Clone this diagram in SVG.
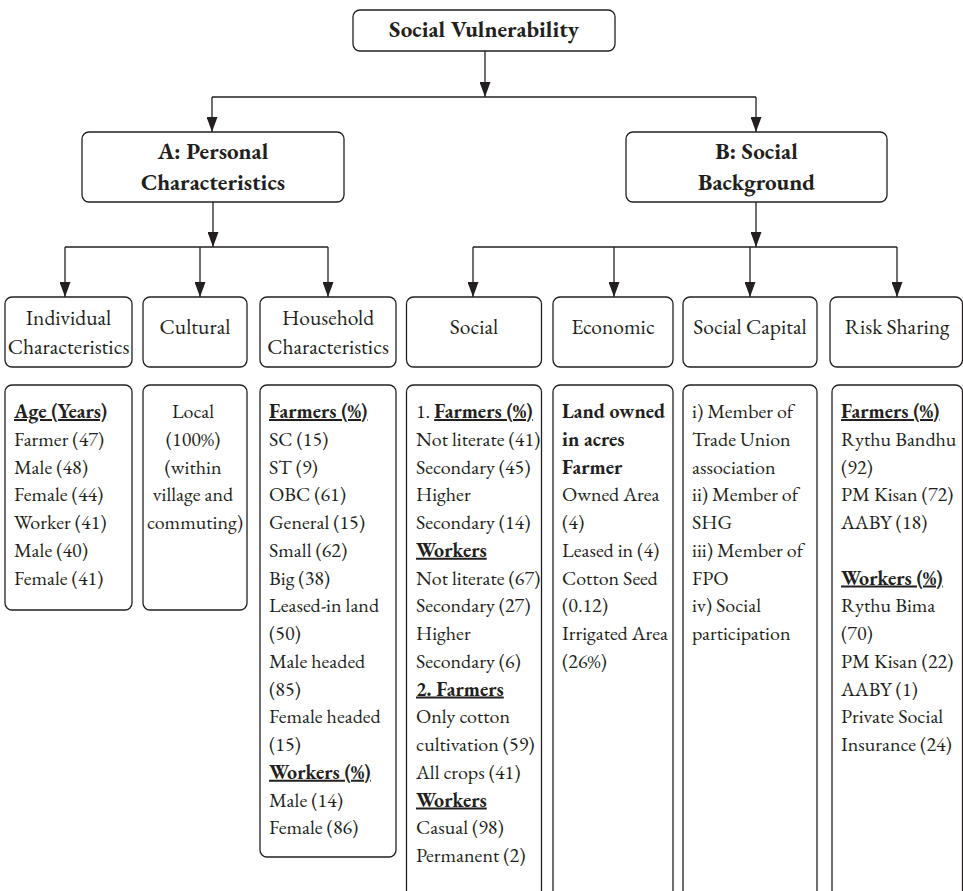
<svg xmlns="http://www.w3.org/2000/svg" width="963" height="891" viewBox="0 0 963 891">
<style>
.box{fill:#fff;stroke:#231f20;stroke-width:1.3}
.t{fill:#231f20}
.hd{font-size:23px;font-weight:bold;text-anchor:middle}
.cat{font-size:21.5px;text-anchor:middle}
.c{font-size:20px}
.b{font-weight:bold}
.bu{font-weight:bold;text-decoration:underline}
.ln{fill:none;stroke:#231f20;stroke-width:1.3}
</style>
<defs>
<marker id="ah" viewBox="0 0 15 11" refX="15" refY="5.5" markerWidth="15" markerHeight="11" orient="auto" markerUnits="userSpaceOnUse">
<path d="M0,0 L15,5.5 L0,11 Z" fill="#231f20"/>
</marker>
</defs>
<rect width="963" height="891" fill="#fff"/>
<g id="connectors">
<path class="ln" d="M485,51 V97" marker-end="url(#ah)"/>
<path class="ln" d="M212,97 H756"/>
<path class="ln" d="M212,97 V132" marker-end="url(#ah)"/>
<path class="ln" d="M756,97 V132" marker-end="url(#ah)"/>
<path class="ln" d="M213,202 V247" marker-end="url(#ah)"/>
<path class="ln" d="M65,247 H328"/>
<path class="ln" d="M65,247 V297" marker-end="url(#ah)"/>
<path class="ln" d="M200,247 V297" marker-end="url(#ah)"/>
<path class="ln" d="M328,247 V297" marker-end="url(#ah)"/>
<path class="ln" d="M756,202 V247" marker-end="url(#ah)"/>
<path class="ln" d="M473,247 H897"/>
<path class="ln" d="M473,247 V297" marker-end="url(#ah)"/>
<path class="ln" d="M614,247 V297" marker-end="url(#ah)"/>
<path class="ln" d="M750,247 V297" marker-end="url(#ah)"/>
<path class="ln" d="M897,247 V297" marker-end="url(#ah)"/>
</g>
<g font-family="EB Garamond, Liberation Serif, serif">
<g id="social-vulnerability">
<rect class="box" x="353" y="10" width="262" height="41" rx="7"/>
<text class="t hd" x="484" y="37">Social Vulnerability</text>
</g>
<g id="a-personal">
<rect class="box" x="82" y="132" width="262" height="70" rx="7"/>
<text class="t hd"><tspan x="213" y="159">A: Personal</tspan><tspan x="213" y="190">Characteristics</tspan></text>
</g>
<g id="b-social">
<rect class="box" x="626" y="132" width="261" height="70" rx="7"/>
<text class="t hd"><tspan x="756.5" y="159">B: Social</tspan><tspan x="756.5" y="190">Background</tspan></text>
</g>
<g id="individual">
<rect class="box" x="5" y="297" width="127" height="70" rx="7"/>
<text class="t cat"><tspan x="68.5" y="325">Individual</tspan><tspan x="68.5" y="354">Characteristics</tspan></text>
</g>
<g id="cultural">
<rect class="box" x="143" y="297" width="104" height="70" rx="7"/>
<text class="t cat" x="195" y="334">Cultural</text>
</g>
<g id="household">
<rect class="box" x="260" y="297" width="136" height="70" rx="7"/>
<text class="t cat"><tspan x="328" y="325">Household</tspan><tspan x="328" y="354">Characteristics</tspan></text>
</g>
<g id="social">
<rect class="box" x="406.5" y="297" width="135" height="70" rx="7"/>
<text class="t cat" x="474" y="334">Social</text>
</g>
<g id="economic">
<rect class="box" x="553" y="297" width="120" height="70" rx="7"/>
<text class="t cat" x="613" y="334">Economic</text>
</g>
<g id="social-capital">
<rect class="box" x="683" y="297" width="134" height="70" rx="7"/>
<text class="t cat" x="750" y="334">Social Capital</text>
</g>
<g id="risk-sharing">
<rect class="box" x="830" y="297" width="132.5" height="70" rx="7"/>
<text class="t cat" x="897" y="334">Risk Sharing</text>
</g>
<g id="individual-details">
<rect class="box" x="5" y="385" width="127" height="225" rx="7"/>
<text class="t c">
<tspan x="14" y="418" class="bu">Age (Years)</tspan>
<tspan x="14" y="445.75">Farmer (47)</tspan>
<tspan x="14" y="473.5">Male (48)</tspan>
<tspan x="14" y="501.25">Female (44)</tspan>
<tspan x="14" y="529">Worker (41)</tspan>
<tspan x="14" y="556.75">Male (40)</tspan>
<tspan x="14" y="584.5">Female (41)</tspan>
</text>
</g>
<g id="cultural-details">
<rect class="box" x="143" y="385" width="104" height="225" rx="7"/>
<text class="t c" text-anchor="middle">
<tspan x="195" y="418">Local</tspan>
<tspan x="195" y="445.75">(100%)</tspan>
<tspan x="195" y="473.5">(within</tspan>
<tspan x="195" y="501.25">village and</tspan>
<tspan x="195" y="529">commuting)</tspan>
</text>
</g>
<g id="household-details">
<rect class="box" x="260" y="385" width="136" height="472" rx="7"/>
<text class="t c">
<tspan x="269" y="418" class="bu">Farmers (%)</tspan>
<tspan x="269" y="445.75">SC (15)</tspan>
<tspan x="269" y="473.5">ST (9)</tspan>
<tspan x="269" y="501.25">OBC (61)</tspan>
<tspan x="269" y="529">General (15)</tspan>
<tspan x="269" y="556.75">Small (62)</tspan>
<tspan x="269" y="584.5">Big (38)</tspan>
<tspan x="269" y="612.25">Leased-in land</tspan>
<tspan x="269" y="640">(50)</tspan>
<tspan x="269" y="667.75">Male headed</tspan>
<tspan x="269" y="695.5">(85)</tspan>
<tspan x="269" y="723.25">Female headed</tspan>
<tspan x="269" y="751">(15)</tspan>
<tspan x="269" y="778.75" class="bu">Workers (%)</tspan>
<tspan x="269" y="806.5">Male (14)</tspan>
<tspan x="269" y="834.25">Female (86)</tspan>
</text>
</g>
<g id="social-details">
<rect class="box" x="406.5" y="385" width="135" height="530" rx="7"/>
<text class="t c">
<tspan x="416" y="418">1.&#160;</tspan><tspan class="bu">Farmers (%)</tspan>
<tspan x="416" y="445.75">Not literate (41)</tspan>
<tspan x="416" y="473.5">Secondary (45)</tspan>
<tspan x="416" y="501.25">Higher</tspan>
<tspan x="416" y="529">Secondary (14)</tspan>
<tspan x="416" y="556.75" class="bu">Workers</tspan>
<tspan x="416" y="584.5">Not literate (67)</tspan>
<tspan x="416" y="612.25">Secondary (27)</tspan>
<tspan x="416" y="640">Higher</tspan>
<tspan x="416" y="667.75">Secondary (6)</tspan>
<tspan x="416" y="695.5" class="bu">2. Farmers</tspan>
<tspan x="416" y="723.25">Only cotton</tspan>
<tspan x="416" y="751">cultivation (59)</tspan>
<tspan x="416" y="778.75">All crops (41)</tspan>
<tspan x="416" y="806.5" class="bu">Workers</tspan>
<tspan x="416" y="834.25">Casual (98)</tspan>
<tspan x="416" y="862">Permanent (2)</tspan>
</text>
</g>
<g id="economic-details">
<rect class="box" x="553" y="385" width="120" height="530" rx="7"/>
<text class="t c">
<tspan x="562" y="418" class="b">Land owned</tspan>
<tspan x="562" y="445.75" class="b">in acres</tspan>
<tspan x="562" y="473.5" class="b">Farmer</tspan>
<tspan x="562" y="501.25">Owned Area</tspan>
<tspan x="562" y="529">(4)</tspan>
<tspan x="562" y="556.75">Leased in (4)</tspan>
<tspan x="562" y="584.5">Cotton Seed</tspan>
<tspan x="562" y="612.25">(0.12)</tspan>
<tspan x="562" y="640">Irrigated Area</tspan>
<tspan x="562" y="667.75">(26%)</tspan>
</text>
</g>
<g id="social-capital-details">
<rect class="box" x="683" y="385" width="134" height="530" rx="7"/>
<text class="t c">
<tspan x="692" y="418">i) Member of</tspan>
<tspan x="692" y="445.75">Trade Union</tspan>
<tspan x="692" y="473.5">association</tspan>
<tspan x="692" y="501.25">ii) Member of</tspan>
<tspan x="692" y="529">SHG</tspan>
<tspan x="692" y="556.75">iii) Member of</tspan>
<tspan x="692" y="584.5">FPO</tspan>
<tspan x="692" y="612.25">iv) Social</tspan>
<tspan x="692" y="640">participation</tspan>
</text>
</g>
<g id="risk-sharing-details">
<rect class="box" x="832" y="385" width="130.5" height="530" rx="7"/>
<text class="t c">
<tspan x="841" y="418" class="bu">Farmers (%)</tspan>
<tspan x="841" y="445.75">Rythu Bandhu</tspan>
<tspan x="841" y="473.5">(92)</tspan>
<tspan x="841" y="501.25">PM Kisan (72)</tspan>
<tspan x="841" y="529">AABY (18)</tspan>
<tspan x="841" y="584.5" class="bu">Workers (%)</tspan>
<tspan x="841" y="612.25">Rythu Bima</tspan>
<tspan x="841" y="640">(70)</tspan>
<tspan x="841" y="667.75">PM Kisan (22)</tspan>
<tspan x="841" y="695.5">AABY (1)</tspan>
<tspan x="841" y="723.25">Private Social</tspan>
<tspan x="841" y="751">Insurance (24)</tspan>
</text>
</g>
</g>
</svg>
